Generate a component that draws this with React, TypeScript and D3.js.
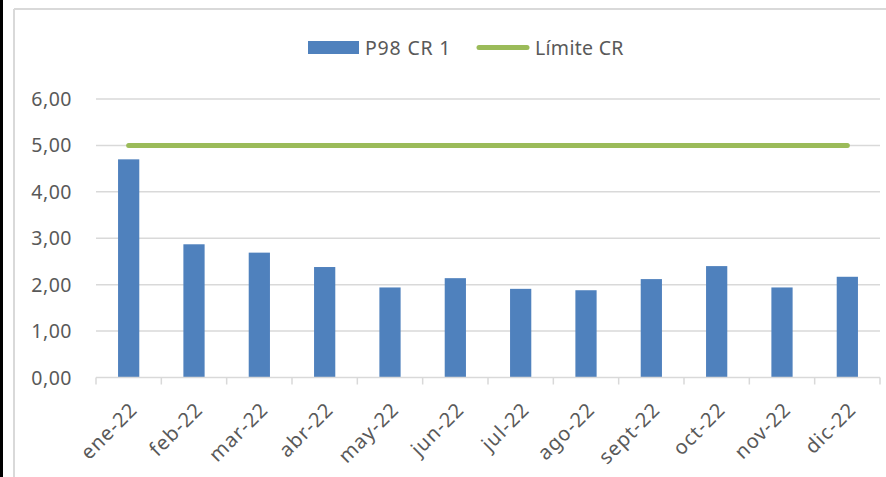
import React from "react";
import * as d3 from "d3";

const categories = ["ene-22", "feb-22", "mar-22", "abr-22", "may-22", "jun-22", "jul-22", "ago-22", "sept-22", "oct-22", "nov-22", "dic-22"];
const p98Values = [4.70, 2.87, 2.69, 2.38, 1.94, 2.14, 1.91, 1.88, 2.12, 2.40, 1.94, 2.17];
const limitValues = [5, 5, 5, 5, 5, 5, 5, 5, 5, 5, 5, 5];
const yTicks = [0, 1, 2, 3, 4, 5, 6];
const seriesNames = ["P98 CR 1", "Límite CR"];

const W = 886;
const H = 477;
const FONT = "'Noto Sans', sans-serif";
const TEXT = "#595959";
const GRID = "#d9d9d9";
const BLUE = "#4F81BD";
const GREEN = "#9BBB59";

export default function App() {
  const x = d3.scaleBand<string>().domain(categories).range([96, 880]).paddingInner(0).paddingOuter(0);
  const y = d3.scaleLinear().domain([0, 6]).range([377.5, 99]);
  const bw = x.bandwidth();
  const barW = bw * 0.325;
  const fmt = (v: number) => v.toFixed(2).replace(".", ",");
  const line = d3
    .line<number>()
    .x((_, i) => (x(categories[i]) as number) + bw / 2)
    .y((d) => y(d));

  return (
    <svg width={W} height={H} style={{ position: "absolute", left: 0, top: 0, background: "#fff" }} fontFamily={FONT}>
      <rect x={0} y={0} width={W} height={H} fill="#fff" />
      {/* outer borders */}
      <rect x={0} y={0} width={3} height={H} fill="#000" />
      <line x1={14} y1={9} x2={W} y2={9} stroke={GRID} strokeWidth={2} />
      <line x1={14} y1={9} x2={14} y2={H} stroke={GRID} strokeWidth={2} />

      {/* gridlines */}
      {yTicks.map((t) => (
        <g key={t}>
          {t > 0 && <line x1={96} x2={880} y1={y(t)} y2={y(t)} stroke={GRID} strokeWidth={1.5} />}
          <text x={72} y={y(t)} dy="0.36em" textAnchor="end" fontSize={19.5} letterSpacing={0.5} fill={TEXT}>
            {fmt(t)}
          </text>
        </g>
      ))}

      {/* bars */}
      {p98Values.map((v, i) => (
        <rect
          key={i}
          x={(x(categories[i]) as number) + bw / 2 - barW / 2}
          y={y(v)}
          width={barW}
          height={y(0) - y(v)}
          fill={BLUE}
        />
      ))}

      {/* x axis */}
      <line x1={96} x2={880} y1={y(0)} y2={y(0)} stroke={GRID} strokeWidth={1.5} />
      {[...categories.map((c) => x(c) as number), 880].map((px, i) => (
        <line key={i} x1={px} x2={px} y1={y(0)} y2={y(0) + 7} stroke={GRID} strokeWidth={1.5} />
      ))}
      {categories.map((c) => {
        const cx = (x(c) as number) + bw / 2;
        return (
          <text
            key={c}
            transform={`translate(${cx + 10},${411}) rotate(-45)`}
            textAnchor="end"
            fontSize={20}
            letterSpacing={1}
            fill={TEXT}
          >
            {c}
          </text>
        );
      })}

      {/* limit line */}
      <path d={line(limitValues) || ""} fill="none" stroke={GREEN} strokeWidth={5} strokeLinecap="round" />

      {/* legend */}
      <rect x={308} y={41} width={51} height={13} fill={BLUE} />
      <text x={365} y={47.5} dy="0.36em" fontSize={19.5} letterSpacing={0.8} fill={TEXT}>
        {seriesNames[0]}
      </text>
      <line x1={479} x2={527} y1={47.5} y2={47.5} stroke={GREEN} strokeWidth={5} strokeLinecap="round" />
      <text x={535} y={47.5} dy="0.36em" fontSize={19.5} letterSpacing={0.3} fill={TEXT}>
        {seriesNames[1]}
      </text>
    </svg>
  );
}
